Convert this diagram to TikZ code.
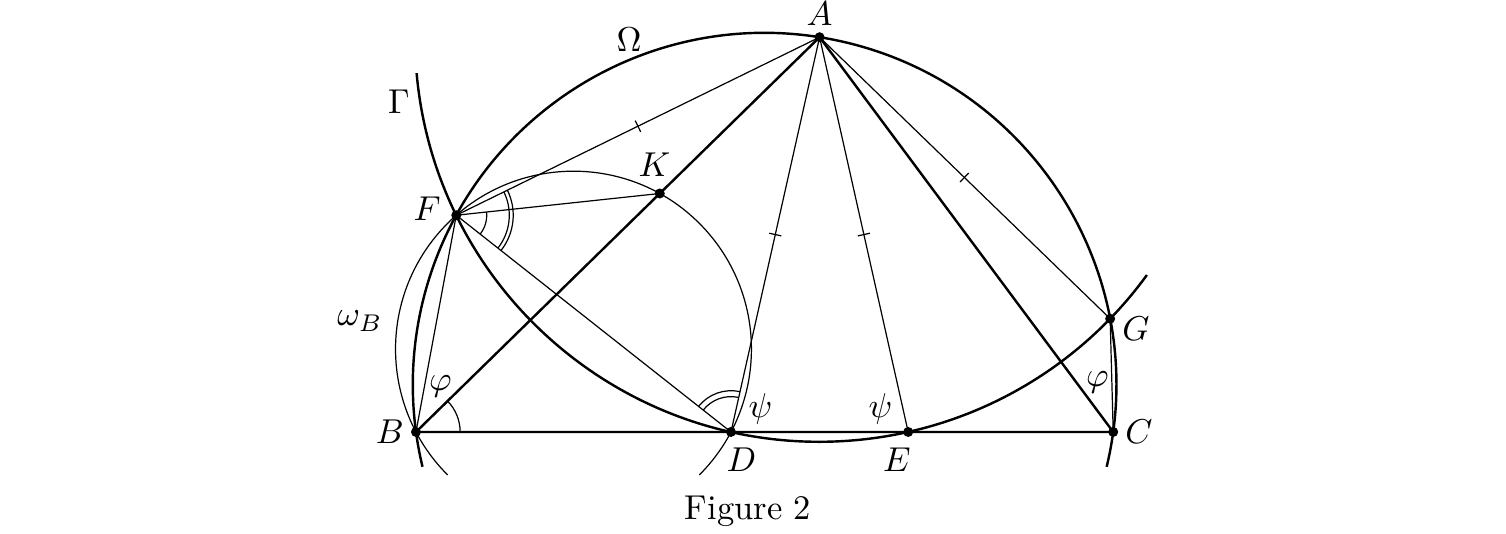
\documentclass[tikz,border=0pt]{standalone}
\usepackage{amsmath}
\usepackage{tikz}
\usetikzlibrary{angles}
\usetikzlibrary{decorations.markings}
\tikzset{
  thick line/.style={line width=0.7pt},
  thin line/.style={line width=0.35pt},
  angle mark/.style={draw,thin line},
  equal mark/.style={postaction={decorate,decoration={markings,
    mark=at position 0.5 with {\draw[thin line] (0,-1.8pt) -- (0,1.8pt);}}}}
}

\begin{document}
\begin{tikzpicture}
  \useasboundingbox (-4.236,-1.029) rectangle (11.100,4.399);
  \coordinate (A) at (4.110,4.020);
  \coordinate (B) at (0,0);
  \coordinate (C) at (7.100,0);
  \coordinate (D) at (3.2078,0);
  \coordinate (E) at (5.0122,0);
  \coordinate (F) at (0.4104,2.2069);
  \coordinate (G) at (7.0690,1.1532);
  \coordinate (K) at (2.4826,2.4283);
  \coordinate (O) at (3.550,0.4815);   % centre of Omega
  \coordinate (W) at (1.6039,0.8434);  % centre of omega_B
  % circles
  \draw[thick line] ([shift={(-13.5:3.5825)}]O) arc[start angle=-13.5, end angle=193.5, radius=3.5825];
  \draw[thick line] ([shift={(185.1:4.12)}]A) arc[start angle=185.1, end angle=324, radius=4.12];
  \draw[thin line] ([shift={(-45:1.8121)}]W) arc[start angle=-45, end angle=225, radius=1.8121];
  % triangle
  \draw[thick line] (B) -- (C) -- (A) -- cycle;
  % equal segments
  \draw[thin line,equal mark] (A) -- (F);
  \draw[thin line,equal mark] (A) -- (D);
  \draw[thin line,equal mark] (A) -- (E);
  \draw[thin line,equal mark] (A) -- (G);
  \draw[thin line] (F) -- (K);
  \draw[thin line] (F) -- (D);
  \draw[thin line] (F) -- (B);
  \draw[thin line] (G) -- (C);
  % angles
  \pic[angle mark, angle radius=0.45cm] {angle=C--B--A};
  \pic[angle mark, angle radius=0.31cm] {angle=D--F--K};
  \pic[angle mark, angle radius=0.54cm] {angle=D--F--A};
  \pic[angle mark, angle radius=0.58cm] {angle=D--F--A};
  \pic[angle mark, angle radius=0.36cm] {angle=A--D--F};
  \pic[angle mark, angle radius=0.42cm] {angle=A--D--F};
  % points
  \fill (A) circle (1.45pt) (B) circle (1.45pt) (C) circle (1.45pt) (D) circle (1.45pt)
        (E) circle (1.45pt) (F) circle (1.45pt) (G) circle (1.45pt) (K) circle (1.45pt);
  \node[above] (lA) at (A) {$A$};
  \node[left] (lB) at (B) {$B$};
  \node[right] (lC) at (C) {$C$};
  \node[below=1pt,xshift=3pt] (lD) at (D) {$D$};
  \node[below=1pt,xshift=-3.3pt] (lE) at (E) {$E$};
  \node[left,xshift=-1pt,yshift=2pt] (lF) at (F) {$F$};
  \node[right,yshift=-3pt] (lG) at (G) {$G$};
  \node[above=1.5pt,xshift=-1.5pt] (lK) at (K) {$K$};
  \node (phiB) at (0.248,0.463) {$\varphi$};
  \node (phiC) at (6.940,0.504) {$\varphi$};
  \node (psiD) at (3.508,0.234) {$\psi$};
  \node (psiE) at (4.730,0.234) {$\psi$};
  \node (Omega) at (2.169,3.992) {$\Omega$};
  \node (Gamma) at (-0.173,3.364) {$\Gamma$};
  \node (omegaB) at (-0.570,1.130) {$\omega_B$};
  \node (caption) at (3.381,-0.812) {Figure 2};
\end{tikzpicture}
\end{document}
